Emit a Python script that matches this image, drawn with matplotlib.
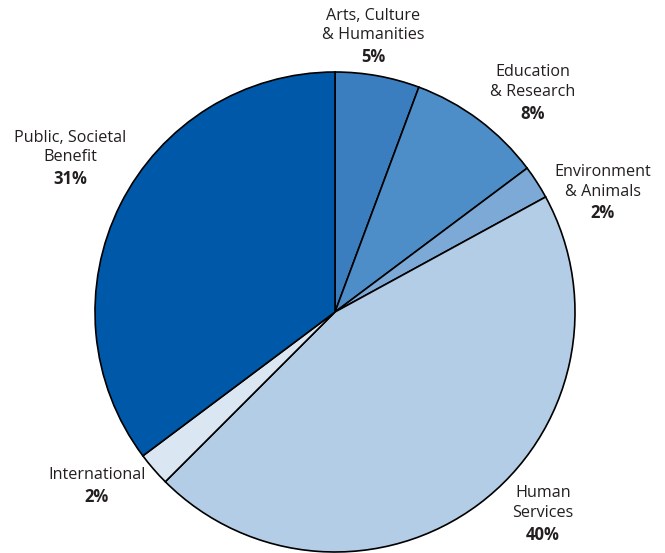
import matplotlib
matplotlib.use('Agg')
import matplotlib.pyplot as plt

# Shares by category, clockwise from the top
categories = ['Arts, Culture\n& Humanities', 'Education\n& Research', 'Environment\n& Animals',
              'Human\nServices', 'International', 'Public, Societal\nBenefit']
shares = [5, 8, 2, 40, 2, 31]
colors = ['#3a7ec0', '#4d8ec9', '#7da9d6', '#b4cde6', '#dae6f2', '#0059a8']

# label anchor points in pixels (x, name centre y, percent centre y)
label_pos = [(373, 25.5, 57), (533, 82, 114), (603, 182, 213),
             (543, 503, 535), (97, 475, 497), (70, 147.5, 179)]

W, H = 665, 553
cx, cy, R = 335, 312, 240

fig = plt.figure(figsize=(W / 100, H / 100), dpi=100)
ax = fig.add_axes([0, 0, 1, 1])

ax.pie(shares, colors=colors, startangle=90, counterclock=False, radius=1,
       wedgeprops=dict(edgecolor='black', linewidth=1.2))

# pie() resets the limits, so fix them afterwards
ax.set_xlim(-cx / R, (W - cx) / R)
ax.set_ylim(-(H - cy) / R, cy / R)
ax.set_aspect('equal')
ax.axis('off')

font = ['Open Sans', 'DejaVu Sans']
for name, val, (px, ny, py) in zip(categories, shares, label_pos):
    x = (px - cx) / R
    ax.text(x, (cy - ny) / R, name, ha='center', va='center', fontsize=11.6,
            family=font, color='#231f20', linespacing=1.3)
    ax.text(x, (cy - py) / R, f'{val}%', ha='center', va='center', fontsize=12,
            family=font, fontweight='bold', color='#231f20')

fig.savefig('out.png', dpi=100)
